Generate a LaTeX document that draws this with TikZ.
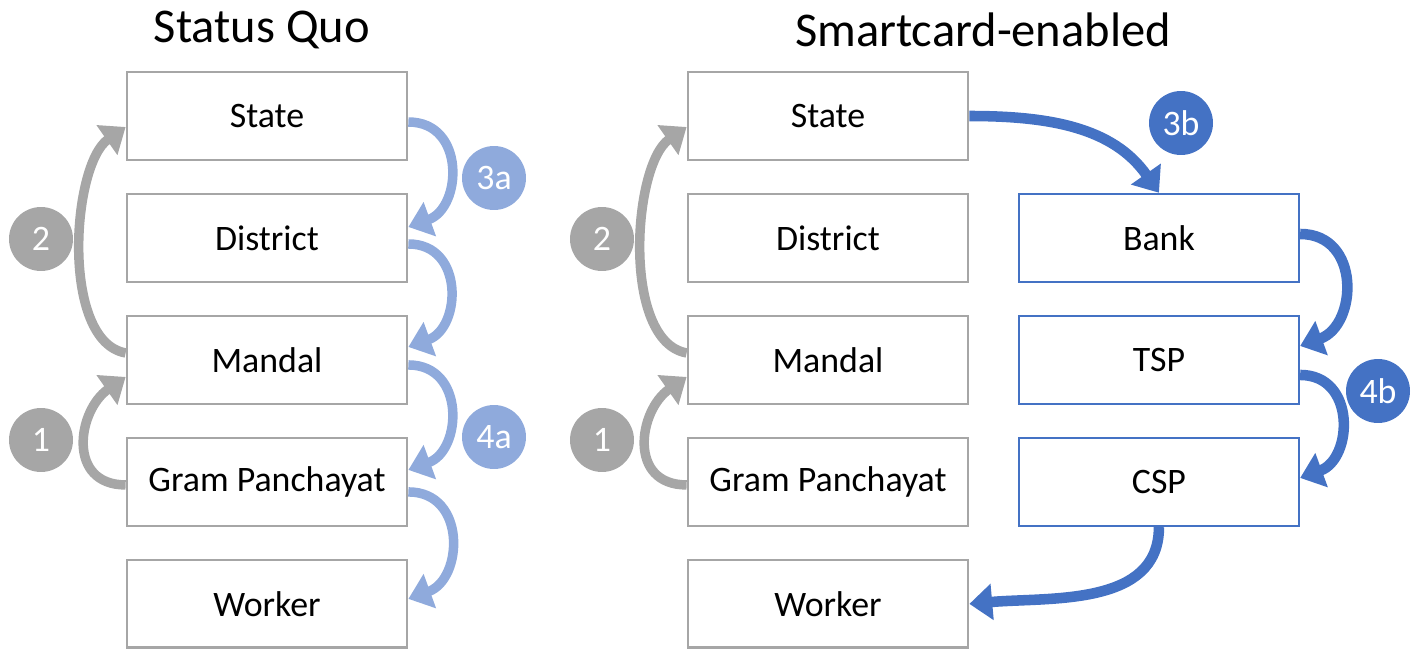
\documentclass[tikz,border=0pt]{standalone}
\usepackage{fontspec}
\setmainfont{Carlito}
\usetikzlibrary{positioning, arrows.meta}
\definecolor{boxgray}{HTML}{A6A6A6}
\definecolor{lightblue}{HTML}{8FAADC}
\definecolor{darkblue}{HTML}{4472C4}

\begin{document}
\begin{tikzpicture}[
						x=0.02cm, y=-0.02cm,
						node distance={2.44cm},
						level/.style = {draw=boxgray, line width=1.6pt, rectangle, minimum width=5.6cm, minimum height=1.76cm, font=\fontsize{20.4}{24}\selectfont},
						blevel/.style = {level, draw=darkblue, line width=1.4pt},
						heading/.style = {font=\fontsize{27.6}{32}\selectfont},
						gnum/.style = {circle, fill=boxgray, text=white, minimum size=1.28cm, inner sep=0pt, font=\fontsize{20.4}{24}\selectfont},
						lnum/.style = {gnum, fill=lightblue},
						dnum/.style = {gnum, fill=darkblue},
						garrow/.style = {draw=boxgray, line width=5.4pt, -{Triangle[length=13pt, width=20pt]}},
						larrow/.style = {garrow, draw=lightblue},
						darrow/.style = {garrow, draw=darkblue, line width=6pt}
					]
\useasboundingbox (0,0) rectangle (1424,649);

% status quo
\node[heading] (tq) at (262,30) {Status Quo};
\node[level] (state) at (267,116) {State};
\node[level] (district) [below of=state] {District};
\node[level] (mandal) [below of=district] {Mandal};
\node[level] (gp) [below of=mandal] {Gram Panchayat};
\node[level] (worker) [below of=gp] {Worker};

\node[gnum] (n2) at (41,239) {2};
\node[gnum] (n1) at (41,440) {1};
\node[lnum] (n3a) at (494,178) {3a};
\node[lnum] (n4a) at (494,437) {4a};

\draw[garrow] ([yshift=0.14cm]mandal.west) to [out=170, in=215, looseness=0.75] ([yshift=-0.22cm]state.west);
\draw[garrow] ([yshift=-0.06cm]gp.west) to [out=180, in=215, looseness=1.4] ([yshift=-0.34cm]mandal.west);
\draw[larrow] ([yshift=-0.12cm]state.east) to [out=0, in=20, looseness=1.4] ([yshift=0.22cm]district.east);
\draw[larrow] ([yshift=-0.12cm]district.east) to [out=0, in=20, looseness=1.4] ([yshift=0.26cm]mandal.east);
\draw[larrow] ([yshift=-0.1cm]mandal.east) to [out=0, in=20, looseness=1.4] ([yshift=0.24cm]gp.east);
\draw[larrow] ([yshift=-0.2cm]gp.east) to [out=0, in=20, looseness=1.4] ([yshift=0.1cm]worker.east);

% smartcard
\node[heading] (ts) at (983,30) {Smartcard-enabled};
\node[level] (stateS) at (828,116) {State};
\node[level] (districtS) [below of=stateS] {District};
\node[level] (mandalS) [below of=districtS] {Mandal};
\node[level] (gpS) [below of=mandalS] {Gram Panchayat};
\node[level] (workerS) [below of=gpS] {Worker};
\node[blevel] (bank) [right of=districtS, node distance=6.62cm] {Bank};
\node[blevel] (tsp) [below of=bank] {TSP};
\node[blevel] (csp) [below of=tsp] {CSP};

\node[gnum] (m2) at (602,239) {2};
\node[gnum] (m1) at (602,440) {1};
\node[dnum] (n3b) at (1181,123) {3b};
\node[dnum] (n4b) at (1378,391) {4b};

\draw[garrow] ([yshift=0.14cm]mandalS.west) to [out=170, in=215, looseness=0.75] ([yshift=-0.22cm]stateS.west);
\draw[garrow] ([yshift=-0.06cm]gpS.west) to [out=180, in=215, looseness=1.4] ([yshift=-0.34cm]mandalS.west);
\draw[darrow] (stateS.east) to [out=0, in=125] (bank.north);
\draw[darrow] ([yshift=0.08cm]bank.east) to [out=0, in=20, looseness=1.4] ([yshift=0.28cm]tsp.east);
\draw[darrow] ([yshift=-0.3cm]tsp.east) to [out=0, in=20, looseness=1.4] ([yshift=0.08cm]csp.east);
\draw[darrow] (csp.south) to [out=-90, in=5] (workerS.east);
\end{tikzpicture}
\end{document}
